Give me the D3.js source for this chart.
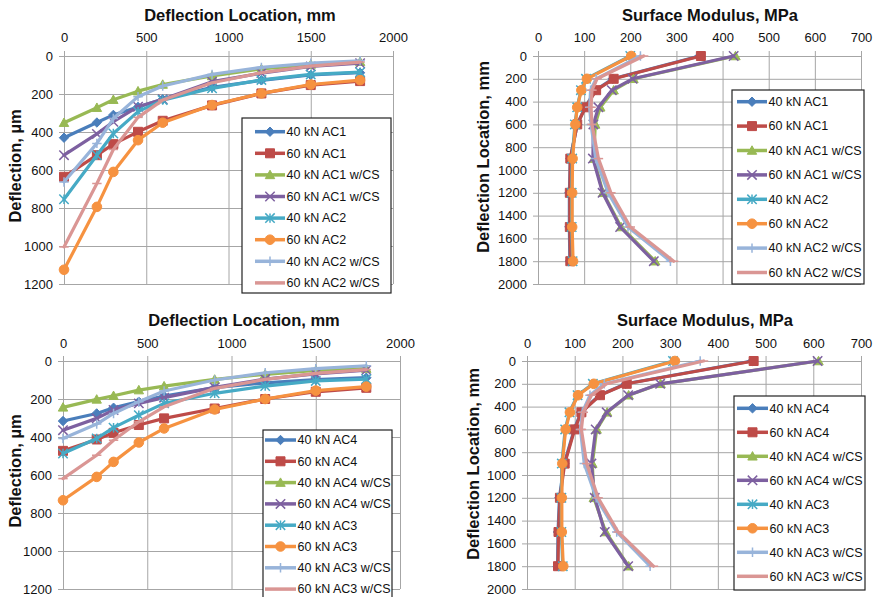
<!DOCTYPE html>
<html>
<head>
<meta charset="utf-8">
<script src="https://cdn.jsdelivr.net/npm/d3@7"></script>
<style>
  body { margin: 0; background: #fff; }
  svg { display: block; font-family: "Liberation Sans", Arial, sans-serif; }
  .tick text { font-size: 13px; fill: #111; }
  .title { font-size: 16.5px; font-weight: bold; fill: #111; }
  .legendText { font-size: 12.5px; fill: #111; }
</style>
</head>
<body>
<svg id="chart" width="877" height="597"></svg>
<script>
// sensor offsets, mm
var locations = [0, 200, 300, 450, 600, 900, 1200, 1500, 1800];

var labelsTop = ["40 kN AC1", "60 kN AC1", "40 kN AC1 w/CS", "60 kN AC1 w/CS",
                 "40 kN AC2", "60 kN AC2", "40 kN AC2 w/CS", "60 kN AC2 w/CS"];
var labelsBottom = ["40 kN AC4", "60 kN AC4", "40 kN AC4 w/CS", "60 kN AC4 w/CS",
                    "40 kN AC3", "60 kN AC3", "40 kN AC3 w/CS", "60 kN AC3 w/CS"];

// deflection, µm (top left)
var deflTop = [
  [430, 350, 310, 268, 228, 165, 128, 100, 88],
  [636, 522, 464, 399, 341, 260, 197, 153, 132],
  [351, 272, 230, 185, 150, 105, 68, 45, 30],
  [522, 410, 346, 267, 228, 135, 90, 55, 38],
  [754, 522, 408, 293, 232, 170, 126, 97, 85],
  [1125, 794, 610, 443, 351, 258, 197, 150, 127],
  [663, 460, 329, 214, 158, 97, 60, 38, 25],
  [1005, 671, 492, 323, 232, 141, 88, 53, 32]
];
// surface modulus, MPa (top right)
var modTop = [
  [350, 162, 125, 102, 85, 70, 68, 68, 69],
  [353, 164, 126, 103, 85, 70, 69, 69, 70],
  [428, 207, 164, 135, 124, 121, 141, 180, 254],
  [424, 205, 160, 131, 120, 119, 140, 178, 251],
  [200, 104, 93, 85, 80, 74, 73, 73, 75],
  [202, 106, 94, 85, 81, 75, 74, 74, 76],
  [222, 126, 114, 112, 115, 125, 152, 195, 287],
  [229, 128, 117, 115, 117, 131, 158, 200, 294]
];
// deflection, µm (bottom left)
var deflBottom = [
  [316, 276, 246, 214, 185, 140, 115, 98, 88],
  [473, 413, 378, 337, 302, 250, 200, 162, 141],
  [244, 202, 183, 153, 132, 97, 70, 50, 40],
  [364, 302, 258, 223, 193, 139, 95, 68, 48],
  [487, 408, 351, 285, 223, 170, 132, 105, 95],
  [733, 610, 531, 429, 355, 255, 200, 156, 135],
  [408, 332, 276, 214, 158, 100, 62, 40, 25],
  [619, 496, 417, 320, 241, 144, 97, 65, 45]
];
// surface modulus, MPa (bottom right)
var modBottom = [
  [472, 207, 152, 113, 99, 78, 68, 65, 64],
  [475, 209, 153, 114, 100, 79, 69, 66, 65],
  [611, 280, 213, 168, 146, 137, 140, 165, 213],
  [609, 279, 212, 167, 144, 135, 142, 163, 212],
  [306, 138, 106, 89, 80, 73, 72, 72, 75],
  [310, 140, 107, 90, 81, 74, 73, 73, 76],
  [363, 162, 132, 116, 112, 120, 145, 188, 258],
  [370, 167, 135, 118, 114, 125, 149, 191, 265]
];

var locTicks = [0, 500, 1000, 1500, 2000];
var deflTicks = [0, 200, 400, 600, 800, 1000, 1200];
var modTicks = [0, 100, 200, 300, 400, 500, 600, 700];
var locDepthTicks = [0, 200, 400, 600, 800, 1000, 1200, 1400, 1600, 1800, 2000];

var colors = ["#4A7EBB", "#BE4B48", "#98B954", "#7D60A0", "#46AAC5", "#F69240", "#98B4DA", "#DA9694"];
var markers = ["diamond", "square", "triangle", "cross", "star", "circle", "plus", "dash"];

var svg = d3.select("#chart");

function markerPath(type, r) {
    var p = d3.path();
    if (type === "diamond") {
        p.moveTo(0, -r); p.lineTo(r, 0); p.lineTo(0, r); p.lineTo(-r, 0); p.closePath();
    } else if (type === "square") {
        p.rect(-r, -r, 2 * r, 2 * r);
    } else if (type === "triangle") {
        p.moveTo(0, -r); p.lineTo(r, r * 0.8); p.lineTo(-r, r * 0.8); p.closePath();
    } else if (type === "circle") {
        p.arc(0, 0, r, 0, 2 * Math.PI);
    } else if (type === "cross" || type === "star") {
        p.moveTo(-r, -r); p.lineTo(r, r); p.moveTo(r, -r); p.lineTo(-r, r);
        if (type === "star") { p.moveTo(0, -r); p.lineTo(0, r); }
    } else if (type === "plus") {
        p.moveTo(-r, 0); p.lineTo(r, 0); p.moveTo(0, -r); p.lineTo(0, r);
    } else {
        p.moveTo(-r, 0); p.lineTo(r, 0);
    }
    return p.toString();
}

function isFilled(type) {
    return type === "diamond" || type === "square" || type === "triangle" || type === "circle";
}

function drawMarker(g, type, color, x, y) {
    var r = type === "circle" ? 4.8 : (type === "square" ? 4.5 : 4.7);
    g.append("path")
        .attr("d", markerPath(type, r))
        .attr("transform", "translate(" + x + "," + y + ")")
        .attr("fill", isFilled(type) ? color : "none")
        .attr("stroke", color)
        .attr("stroke-width", isFilled(type) ? 1 : 1.5);
}

function drawPanel(cfg) {
    var w = cfg.x1 - cfg.x0, h = cfg.y1 - cfg.y0;
    var g = svg.append("g").attr("transform", "translate(" + cfg.x0 + "," + cfg.y0 + ")");
    var x = d3.scaleLinear().domain(cfg.xDomain).range([0, w]);
    var y = d3.scaleLinear().domain(cfg.yDomain).range([0, h]);

    var xAxis = g.append("g").call(d3.axisTop(x).tickValues(cfg.xTicks).tickFormat(d3.format("d"))
        .tickSizeInner(-h).tickSizeOuter(0).tickPadding(cfg.xPad));
    var yAxis = g.append("g").call(d3.axisLeft(y).tickValues(cfg.yTicks).tickFormat(d3.format("d"))
        .tickSizeInner(-w).tickSizeOuter(0).tickPadding(11));
    xAxis.selectAll(".tick line").attr("y1", -5);
    yAxis.selectAll(".tick line").attr("x1", -5);
    [xAxis, yAxis].forEach(function (a) {
        a.selectAll("line, path").attr("stroke", "#A6A6A6").attr("stroke-width", 1);
        a.attr("font-size", null).attr("font-family", null);
    });

    // series, first drawn lowest
    cfg.values.forEach(function (vals, i) {
        var pts = vals.map(function (v, j) { return cfg.swap ? [x(v), y(locations[j])] : [x(locations[j]), y(v)]; });
        var line = d3.line();
        g.append("path").attr("d", line(pts))
            .attr("fill", "none").attr("stroke", colors[i]).attr("stroke-width", 3.2)
            .attr("stroke-linejoin", "round").attr("stroke-linecap", "round");
        pts.forEach(function (p) { drawMarker(g, markers[i], colors[i], p[0], p[1]); });
    });

    svg.append("text").attr("class", "title")
        .attr("x", cfg.titleX).attr("y", cfg.y0 - 35).attr("text-anchor", "middle")
        .text(cfg.title);
    svg.append("text").attr("class", "title")
        .attr("transform", "translate(" + cfg.yLabelX + "," + cfg.yLabelY + ") rotate(-90)")
        .attr("dy", "0.35em").attr("text-anchor", "middle")
        .text(cfg.yLabel);

    var L = cfg.legend;
    var lg = svg.append("g");
    lg.append("rect").attr("x", L.x).attr("y", L.y).attr("width", L.w).attr("height", L.h)
        .attr("fill", "#fff").attr("stroke", "#222").attr("stroke-width", 1.2);
    cfg.labels.forEach(function (lab, i) {
        var ry = L.y + L.first + L.step * i;
        lg.append("line").attr("x1", L.x + L.lx0).attr("x2", L.x + L.lx1)
            .attr("y1", ry).attr("y2", ry)
            .attr("stroke", colors[i]).attr("stroke-width", 3.5);
        drawMarker(lg, markers[i], colors[i], L.x + (L.lx0 + L.lx1) / 2, ry);
        lg.append("text").attr("class", "legendText")
            .attr("x", L.x + L.lx1 + 1.5).attr("y", ry).attr("dy", "0.35em")
            .text(lab);
    });
}

drawPanel({
    x0: 64, x1: 393, y0: 56, y1: 284, swap: false,
    xDomain: [0, 2000], yDomain: [0, 1200], xTicks: locTicks, yTicks: deflTicks, xPad: 14,
    values: deflTop, labels: labelsTop,
    title: "Deflection Location, mm", titleX: 240,
    yLabel: "Deflection, µm", yLabelX: 15, yLabelY: 166,
    legend: { x: 242, y: 118, w: 149, h: 175, first: 13.7, step: 21.6, lx0: 13, lx1: 43 }
});
drawPanel({
    x0: 538, x1: 861, y0: 56, y1: 284, swap: true,
    xDomain: [0, 700], yDomain: [0, 2000], xTicks: modTicks, yTicks: locDepthTicks, xPad: 14,
    values: modTop, labels: labelsTop,
    title: "Surface Modulus, MPa", titleX: 710,
    yLabel: "Deflection Location, mm", yLabelX: 483, yLabelY: 157,
    legend: { x: 732, y: 90, w: 132, h: 194, first: 11.7, step: 24.4, lx0: 5, lx1: 35 }
});
drawPanel({
    x0: 63, x1: 400, y0: 361, y1: 589, swap: false,
    xDomain: [0, 2000], yDomain: [0, 1200], xTicks: locTicks, yTicks: deflTicks, xPad: 13.5,
    values: deflBottom, labels: labelsBottom,
    title: "Deflection Location, mm", titleX: 244,
    yLabel: "Deflection, µm", yLabelX: 15, yLabelY: 471,
    legend: { x: 263, y: 430, w: 129, h: 180, first: 10, step: 21.3, lx0: 2, lx1: 33 }
});
drawPanel({
    x0: 527, x1: 861, y0: 361, y1: 589, swap: true,
    xDomain: [0, 700], yDomain: [0, 2000], xTicks: modTicks, yTicks: locDepthTicks, xPad: 13.5,
    values: modBottom, labels: labelsBottom,
    title: "Surface Modulus, MPa", titleX: 705,
    yLabel: "Deflection Location, mm", yLabelX: 473, yLabelY: 464,
    legend: { x: 734, y: 396, w: 131, h: 194, first: 12.3, step: 24.0, lx0: 3, lx1: 34 }
});
</script>
</body>
</html>
